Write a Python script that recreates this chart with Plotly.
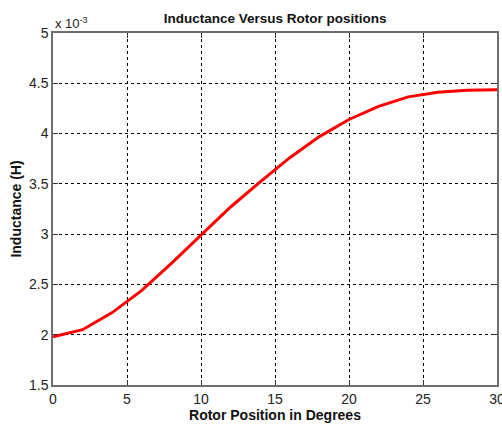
import plotly.graph_objects as go

# Rotor position (degrees) and phase inductance (in units of 1e-3 H)
rotor_deg = [0, 2, 4, 6, 8, 10, 12, 14, 16, 18, 20, 22, 24, 26, 28, 30]
inductance_mH = [1.98, 2.05, 2.22, 2.44, 2.71, 2.99, 3.27, 3.52, 3.76, 3.97,
                 4.14, 4.27, 4.365, 4.41, 4.43, 4.435]

x_ticks = [0, 5, 10, 15, 20, 25, 30]
y_ticks = [1.5, 2, 2.5, 3, 3.5, 4, 4.5, 5]

font_family = "Liberation Sans, Arial, sans-serif"

fig = go.Figure()
fig.add_trace(go.Scatter(
    x=rotor_deg, y=inductance_mH, mode="lines",
    line=dict(color="#ff0000", width=3),
    showlegend=False,
))

axis_common = dict(
    showline=True, linecolor="#6e6e6e", linewidth=1.5, mirror="allticks",
    ticks="inside", ticklen=5, tickcolor="#333333",
    showgrid=True, gridcolor="#000000", gridwidth=1, griddash="3px,3px",
    zeroline=False, ticklabeloverflow="allow", automargin=False,
    tickfont=dict(family=font_family, size=14, color="#222222"),
)

fig.update_xaxes(
    range=[0, 30], tickvals=x_ticks, ticktext=[str(v) for v in x_ticks],
    title=dict(text="<b>Rotor Position in Degrees</b>",
               font=dict(family=font_family, size=14, color="#111111"),
               standoff=4),
    **axis_common,
)
fig.update_yaxes(
    range=[1.5, 5], tickvals=y_ticks, ticktext=[f"{v:g}" for v in y_ticks],
    title=dict(text="<b>Inductance (H)</b>",
               font=dict(family=font_family, size=14, color="#111111"),
               standoff=4),
    **axis_common,
)

fig.update_layout(
    width=502, height=424,
    margin=dict(l=53, r=5, t=33, b=39),
    paper_bgcolor="white", plot_bgcolor="white",
    title=dict(text="<b>Inductance Versus Rotor positions</b>",
               font=dict(family=font_family, size=13.5, color="#111111"),
               x=0.548, xanchor="center", y=0.958, yanchor="middle"),
    annotations=[dict(
        text="x 10<sup>-3</sup>", xref="paper", yref="paper",
        x=0, y=1, xanchor="left", yanchor="bottom", showarrow=False,
        font=dict(family=font_family, size=13, color="#222222"),
        yshift=0,
    )],
)

fig.write_html("out.html")
